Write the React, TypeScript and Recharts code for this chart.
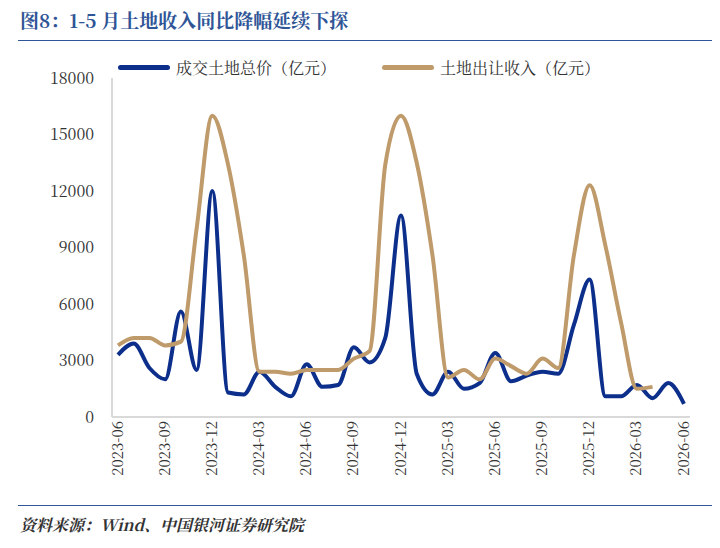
import { LineChart, Line, XAxis, YAxis } from "recharts";

const months = [
  "2023-06", "2023-07", "2023-08", "2023-09", "2023-10", "2023-11", "2023-12",
  "2024-01", "2024-02", "2024-03", "2024-04", "2024-05", "2024-06", "2024-07",
  "2024-08", "2024-09", "2024-10", "2024-11", "2024-12", "2025-01", "2025-02",
  "2025-03", "2025-04", "2025-05", "2025-06", "2025-07", "2025-08", "2025-09",
  "2025-10", "2025-11", "2025-12", "2026-01", "2026-02", "2026-03", "2026-04",
  "2026-05", "2026-06",
];

const landDeals = [
  3300, 3900, 2600, 2000, 5600, 2500, 12000, 1300, 1200, 2400, 1600, 1100, 2800,
  1600, 1700, 3700, 2900, 4200, 10700, 2300, 1200, 2400, 1500, 1800, 3400, 1900,
  2200, 2400, 2300, 4900, 7300, 1100, 1100, 1700, 1000, 1800, 700,
];

const landSales: (number | null)[] = [
  3800, 4200, 4200, 3800, 4000, 10000, 16000, 13400, 8600, 2400, 2400, 2300, 2500,
  2500, 2500, 3100, 3500, 13400, 16000, 13500, 8600, 2100, 2500, 2000, 3100, 2700,
  2300, 3100, 2600, 8600, 12300, 9100, 5000, 1500, 1600, null, null,
];

const yTicks = [0, 3000, 6000, 9000, 12000, 15000, 18000];

const data = months.map((m, i) => ({ month: m, deals: landDeals[i], sales: landSales[i] }));

const serif = "'Noto Serif CJK SC', 'DejaVu Serif', serif";

const legendItems = [
  { name: "成交土地总价（亿元）", color: "#0d2f8c", left: 118 },
  { name: "土地出让收入（亿元）", color: "#bf9a6a", left: 382 },
];

export default function App() {
  return (
    <div style={{ width: 720, height: 548, position: "relative", background: "#fff", margin: -8, fontFamily: serif }}>
      <div style={{ position: "absolute", left: 20, top: 6, fontSize: 19, fontWeight: "bold", color: "#2f5597" }}>
        图8：1-5 月土地收入同比降幅延续下探
      </div>
      <div style={{ position: "absolute", left: 18, right: 8, top: 40, borderTop: "1.5px solid #2f5597" }} />
      {legendItems.map((it) => (
        <div key={it.name} style={{ position: "absolute", left: it.left, top: 56, display: "flex", alignItems: "center", fontSize: 16, color: "#333" }}>
          <span style={{ display: "inline-block", width: 52, height: 5, borderRadius: 3, background: it.color, marginRight: 6 }} />
          {it.name}
        </div>
      ))}
      <LineChart
        width={720}
        height={500}
        data={data}
        margin={{ top: 78, right: 30, left: 20, bottom: 0 }}
        style={{ position: "absolute", left: 0, top: 0 }}
      >
        <XAxis
          dataKey="month"
          interval={2}
          tickLine={false}
          axisLine={{ stroke: "#d9d9d9", strokeWidth: 2 }}
          angle={-90}
          textAnchor="end"
          dy={-4}
          dx={-6}
          height={83}
          tick={{ fontSize: 15, fill: "#333" }}
          padding={{ left: 6, right: 6 }}
        />
        <YAxis
          domain={[0, 18000]}
          ticks={yTicks}
          tickLine={false}
          axisLine={{ stroke: "#d9d9d9", strokeWidth: 2 }}
          width={92}
          tick={{ fontSize: 16, fill: "#333" }}
          dx={-10}
        />
        <Line
          type="monotone"
          dataKey="deals"
          stroke="#0d2f8c"
          strokeWidth={4}
          dot={false}
          isAnimationActive={false}
        />
        <Line
          type="monotone"
          dataKey="sales"
          stroke="#bf9a6a"
          strokeWidth={4}
          dot={false}
          isAnimationActive={false}
        />
      </LineChart>
      <div style={{ position: "absolute", left: 18, right: 8, top: 505, borderTop: "1.5px solid #2f5597" }} />
      <div style={{ position: "absolute", left: 20, top: 513, fontSize: 16, fontStyle: "italic", fontWeight: "bold", color: "#333" }}>
        资料来源：Wind、中国银河证券研究院
      </div>
    </div>
  );
}
